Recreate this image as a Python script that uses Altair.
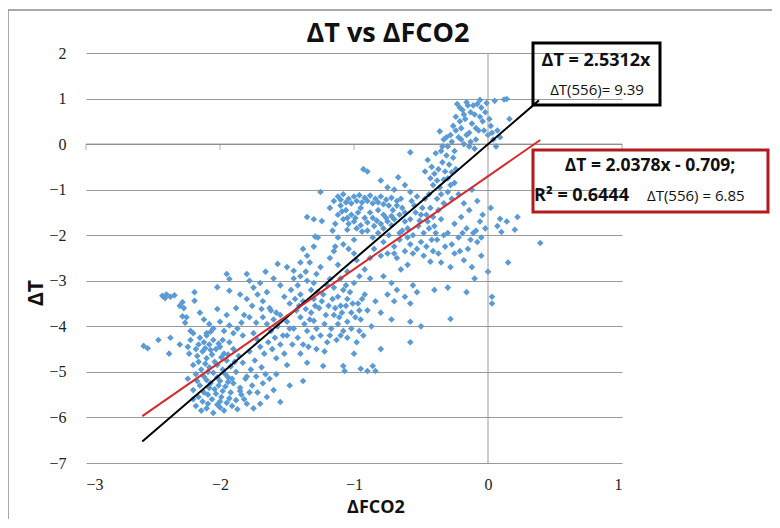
import altair as alt
import pandas as pd

# ---------------- data ----------------
x_ticks = [-3, -2, -1, 0, 1]
y_ticks = [2, 1, 0, -1, -2, -3, -4, -5, -6, -7]

# scatter points (dFCO2, dT), grouped by region of the cloud
pts_far_left = [(-2.57,-4.43),(-2.54,-4.48),(-2.46,-4.30),(-2.37,-4.25),(-2.38,-4.60),(-2.43,-3.33),(-2.40,-3.30),
    (-2.37,-3.35),(-2.34,-3.32),(-2.41,-3.38),(-2.28,-3.47),(-2.27,-3.60),(-2.28,-3.78),(-2.26,-3.92),(-2.25,-3.80),
    (-2.30,-3.55),(-2.22,-4.10),(-2.20,-4.15),(-2.22,-4.30),(-2.24,-4.45),(-2.30,-4.40),(-2.19,-3.25),(-2.19,-3.44)]
pts_low_left = [(-2.15,-4.25),(-2.12,-4.35),(-2.10,-4.20),(-2.08,-4.40),(-2.05,-4.30),(-2.03,-4.50),(-2.13,-4.55),
    (-2.17,-4.65),(-2.10,-4.70),(-2.06,-4.62),(-2.00,-4.45),(-1.97,-4.60),(-1.95,-4.75),(-2.02,-4.85),(-2.08,-4.90),
    (-2.14,-4.95),(-2.18,-5.05),(-2.12,-5.10),(-2.05,-5.02),(-1.98,-4.95),(-1.92,-4.88),(-1.88,-5.00),(-1.94,-5.12),
    (-2.00,-5.20),(-2.07,-5.25),(-2.15,-5.30),(-2.20,-5.40),(-2.12,-5.45),(-2.04,-5.38),(-1.96,-5.32),(-1.90,-5.25),
    (-1.85,-5.35),(-1.92,-5.45),(-1.99,-5.55),(-2.06,-5.60),(-2.13,-5.65),(-2.18,-5.75),(-2.10,-5.80),(-2.02,-5.72),
    (-1.95,-5.68),(-1.88,-5.62),(-1.84,-5.50),(-1.80,-5.70),(-1.87,-5.82),(-1.97,-5.85),(-2.05,-5.90),(-1.83,-4.80),
    (-1.86,-4.65),(-1.90,-4.50),(-1.93,-4.35),(-2.20,-4.85),(-2.24,-5.15),(-2.16,-5.55),(-1.81,-5.15),
    (-2.16,-4.40),(-2.11,-4.48),(-2.07,-4.52),(-2.01,-4.38),(-1.99,-4.68),(-2.04,-4.78),(-2.11,-4.82),(-2.16,-4.78),
    (-2.09,-5.00),(-2.02,-5.12),(-1.96,-5.05),(-1.91,-5.15),(-2.10,-5.18),(-2.17,-5.20),(-2.08,-5.35),(-2.01,-5.30),
    (-1.94,-5.22),(-1.98,-5.42),(-2.09,-5.50),(-2.03,-5.48),(-1.93,-5.58),(-2.00,-5.65),(-2.09,-5.70),(-1.91,-5.75),
    (-1.85,-5.42),(-1.82,-5.60),(-2.14,-5.85),(-2.00,-5.78),(-1.89,-4.78),(-1.94,-4.62),(-1.98,-4.30),(-2.07,-4.12),
    (-2.18,-4.50),(-2.23,-4.60),(-2.20,-5.60),(-1.78,-5.45),(-1.77,-4.95),(-1.73,-5.10),(-1.69,-4.90),(-1.66,-5.05)]
pts_left_mid = [(-2.15,-3.70),(-2.12,-3.85),(-2.08,-3.95),(-2.05,-4.05),(-2.00,-3.90),(-1.97,-4.10),(-1.93,-3.98),
    (-1.90,-4.15),(-1.87,-4.05),(-1.84,-3.92),(-1.95,-3.75),(-2.02,-3.62),(-1.88,-3.60),(-1.82,-3.75),(-2.10,-4.15),
    (-2.02,-3.14),(-1.93,-3.22),(-1.95,-2.85),(-1.93,-2.96),(-1.80,-2.85),(-1.78,-3.00),(-1.75,-3.15),(-1.72,-3.30),
    (-1.70,-3.05),(-1.68,-3.45),(-1.65,-3.25),(-1.63,-3.60),(-1.80,-3.40),(-1.76,-3.55),(-1.85,-3.30),(-1.57,-2.63),
    (-1.50,-2.70),(-1.45,-2.78),(-1.60,-2.95),(-1.55,-3.10),(-1.52,-3.35),(-1.48,-3.50),(-1.58,-3.70),(-1.66,-2.80)]
pts_center_low = [(-1.68,-3.80),(-1.65,-3.95),(-1.62,-4.10),(-1.60,-3.85),(-1.57,-4.00),(-1.55,-3.75),(-1.53,-4.20),
    (-1.50,-3.90),(-1.48,-4.05),(-1.72,-4.30),(-1.70,-4.45),(-1.67,-4.60),(-1.64,-4.35),(-1.61,-4.50),(-1.58,-4.70),
    (-1.55,-4.40),(-1.52,-4.60),(-1.50,-4.85),(-1.75,-4.15),(-1.78,-4.55),(-1.74,-4.75),(-1.80,-5.10),(-1.76,-5.30),
    (-1.72,-5.45),(-1.68,-5.25),(-1.65,-5.55),(-1.70,-5.70),(-1.63,-5.15),(-1.60,-5.40),(-1.55,-5.66),(-1.38,-5.20),
    (-1.75,-5.80),(-1.58,-5.05),(-1.48,-5.30),(-1.40,-4.60),(-1.35,-4.80),(-1.28,-4.50)]
pts_center = [(-1.45,-2.95),(-1.42,-3.10),(-1.40,-3.30),(-1.38,-3.45),(-1.35,-3.00),(-1.32,-3.20),(-1.30,-3.40),
    (-1.28,-2.85),(-1.43,-3.65),(-1.40,-3.80),(-1.37,-3.95),(-1.35,-4.10),(-1.32,-3.70),(-1.30,-3.88),(-1.28,-4.05),
    (-1.25,-4.20),(-1.22,-3.95),(-1.20,-4.35),(-1.42,-4.25),(-1.38,-4.40),(-1.45,-4.05),(-1.26,-3.60),(-1.23,-3.30),
    (-1.20,-3.10),(-1.25,-2.70),(-1.33,-2.60),(-1.22,-4.55),(-1.18,-2.96),(-1.15,-3.15),(-1.12,-3.35),(-1.10,-3.55),
    (-1.08,-3.20),(-1.05,-3.40),(-1.02,-3.70),(-1.00,-3.05),(-0.97,-3.50),(-0.95,-3.85),(-0.92,-3.30),(-0.90,-3.65),
    (-0.87,-4.00),(-0.84,-3.45),(-1.15,-3.75),(-1.12,-3.95),(-1.08,-4.10),(-1.05,-3.90),(-1.18,-4.20),(-1.13,-4.30),
    (-1.05,-4.25),(-0.98,-4.35),(-0.93,-4.20),(-1.18,-2.50),(-1.12,-2.65),(-1.05,-2.80),(-0.98,-2.55),(-0.92,-2.75),
    (-0.88,-2.95),(-1.15,-2.35),(-1.00,-2.40),(-1.23,-4.87),(-1.08,-4.87),(-0.95,-4.93),(-0.84,-4.98),(-1.07,-4.98),
    (-0.90,-4.98),(-0.80,-4.50),(-0.86,-4.87),(-1.00,-4.60),
    (-1.47,-3.20),(-1.44,-3.40),(-1.41,-3.55),(-1.36,-3.62),(-1.33,-3.85),(-1.29,-3.55),(-1.27,-3.25),(-1.24,-3.45),
    (-1.21,-3.75),(-1.19,-3.55),(-1.16,-3.40),(-1.14,-3.60),(-1.11,-3.80),(-1.09,-3.70),(-1.06,-3.55),(-1.03,-3.25),
    (-1.01,-3.50),(-0.99,-3.80),(-0.96,-3.65),(-0.94,-3.40),(-1.17,-4.05),(-1.10,-4.20),(-1.02,-4.05),(-0.96,-4.10),
    (-1.31,-4.25),(-1.34,-4.45),(-1.46,-4.40),(-1.50,-4.20),(-1.59,-4.25),(-1.62,-3.65),(-1.69,-3.62),(-1.73,-3.92),
    (-1.78,-3.80),(-1.83,-4.20),(-1.30,-3.05),(-1.36,-2.80),(-1.40,-2.90),(-1.10,-2.95),(-1.06,-3.10),(-0.96,-2.90)]
pts_upper_mid = [(-1.35,-1.60),(-1.30,-1.65),(-1.24,-1.69),(-1.29,-2.03),(-1.27,-2.05),(-1.16,-1.90),(-1.12,-2.05),
    (-1.08,-2.20),(-1.04,-2.30),(-1.00,-2.10),(-1.14,-2.25),(-1.38,-2.30),(-1.35,-2.45),(-1.30,-2.25),(-1.40,-2.60),
    (-1.12,-1.15),(-1.08,-1.10),(-1.04,-1.20),(-1.00,-1.15),(-0.96,-1.12),(-0.92,-1.18),(-0.88,-1.13),(-0.84,-1.20),
    (-0.80,-1.15),(-0.76,-1.22),(-0.72,-1.18),(-0.68,-1.25),(-0.65,-1.20),(-1.10,-1.35),(-1.06,-1.45),(-1.12,-1.55),
    (-1.08,-1.65),(-1.04,-1.75),(-1.00,-1.70),(-0.95,-1.78),(-0.90,-1.72),(-0.85,-1.80),(-0.80,-1.75),(-0.75,-1.70),
    (-0.70,-1.65),(-0.66,-1.55),(-0.64,-1.40),(-0.68,-1.35),(-0.95,-1.40),(-0.88,-1.50),(-0.82,-1.45),(-0.78,-1.55),
    (-1.02,-1.55),(-0.92,-1.62),(-1.25,-1.05),(-0.93,-0.55),(-0.90,-0.60),(-0.67,-0.73),(-0.80,-0.80),(-0.75,-0.95),
    (-0.70,-1.00),(-0.62,-0.90),(-0.58,-1.05),
    (-1.10,-1.22),(-1.06,-1.28),(-1.02,-1.30),(-0.98,-1.25),(-0.94,-1.28),(-0.90,-1.25),(-0.86,-1.30),(-0.82,-1.28),
    (-0.78,-1.32),(-0.74,-1.35),(-0.71,-1.45),(-0.72,-1.58),(-0.76,-1.62),(-1.09,-1.48),(-1.05,-1.62),(-0.99,-1.62),
    (-0.97,-1.50),(-0.86,-1.62),(-0.83,-1.68),(-0.98,-1.85),(-1.05,-1.88),(-0.94,-1.92),(-0.78,-1.85),(-0.72,-1.78),
    (-1.14,-1.75),(-1.18,-1.40),(-1.15,-1.25),(-0.62,-1.70),(-0.66,-1.95),(-0.70,-2.40)]
pts_right_mid = [(-0.90,-1.90),(-0.86,-2.05),(-0.82,-1.95),(-0.78,-2.15),(-0.74,-2.00),(-0.70,-2.25),(-0.66,-2.10),
    (-0.62,-2.35),(-0.60,-2.05),(-0.85,-2.30),(-0.80,-2.45),(-0.75,-2.40),(-0.68,-2.50),(-0.88,-2.50),(-0.64,-1.90),
    (-0.58,-2.20),(-0.78,-2.90),(-0.72,-3.05),(-0.68,-3.20),(-0.62,-3.35),(-0.58,-3.50),(-0.75,-3.30),(-0.70,-3.45),
    (-0.65,-2.75),(-0.56,-3.10),(-0.53,-3.25),(-0.58,-3.90),(-0.50,-4.00),(-0.58,-4.35),(-0.80,-3.70),(-0.72,-3.85),
    (-0.60,-2.65),(-0.53,-2.30),(-0.48,-2.45),(-0.43,-2.58),(-0.41,-2.35),(-0.38,-2.10),(-0.35,-2.60),(-0.32,-2.25),
    (-0.28,-2.70),(-0.25,-2.40),(-0.22,-2.05),(-0.18,-2.55),(-0.15,-2.30),(-0.12,-2.70),(-0.08,-2.15),(-0.05,-2.45),
    (-0.40,-1.80),(-0.35,-1.65),(-0.30,-1.95),(-0.25,-1.75),(-0.20,-1.60),(-0.16,-1.85),(-0.40,-3.20),(-0.30,-3.15),
    (-0.16,-3.25),(-0.28,-3.84),(0.00,-2.80),(0.03,-3.35),(0.03,-3.50),(-0.10,-2.95)]
pts_band = [(-0.62,-1.50),(-0.58,-1.65),(-0.55,-1.35),(-0.52,-1.80),(-0.50,-1.55),(-0.48,-1.95),(-0.45,-1.70),
    (-0.43,-1.40),(-0.42,-2.10),(-0.56,-2.00),(-0.60,-1.85),(-0.47,-1.20),(-0.44,-1.10),(-0.53,-1.15),
    (-0.45,-0.35),(-0.42,-0.50),(-0.40,-0.65),(-0.38,-0.80),(-0.36,-0.95),(-0.34,-0.40),(-0.32,-0.60),(-0.30,-0.75),
    (-0.28,-0.90),(-0.26,-0.30),(-0.24,-0.55),(-0.39,-0.20),(-0.35,-0.15),(-0.31,-0.25),(-0.58,-0.18),(-0.30,-1.05),
    (-0.27,-1.20),(-0.22,-1.10),(-0.18,-1.30),(-0.14,-1.45),(-0.12,-1.00),(-0.08,-1.25),(-0.04,-1.55),(-0.02,-1.85),
    (-0.06,-1.70),(-0.11,-1.95),
    (-0.57,-1.25),(-0.54,-1.50),(-0.51,-1.68),(-0.49,-1.40),(-0.46,-1.55),(-0.44,-1.85),(-0.41,-1.60),(-0.39,-1.95),
    (-0.37,-1.45),(-0.33,-1.30),(-0.35,-1.10),(-0.38,-1.20),(-0.41,-0.90),(-0.37,-0.55),(-0.33,-0.78),(-0.29,-0.45),
    (-0.27,-0.62),(-0.25,-0.85),(-0.43,-0.75),(-0.47,-0.60),(-0.56,-2.40),(-0.50,-2.15),(-0.46,-2.25),(-0.37,-2.40),
    (-0.33,-2.00),(-0.27,-2.20),(-0.21,-2.35),(-0.19,-1.95),(-0.13,-2.10),(-0.09,-1.90)]
pts_top = [(-0.36,0.28),(-0.33,0.10),(-0.30,-0.05),(-0.28,0.20),(-0.26,0.40),(-0.24,0.60),(-0.22,0.15),(-0.20,0.35),
    (-0.19,0.75),(-0.17,0.55),(-0.15,0.85),(-0.14,0.25),(-0.12,0.45),(-0.10,0.65),(-0.08,0.88),(-0.06,0.97),
    (-0.07,0.30),(-0.04,0.50),(-0.02,0.70),(0.00,0.20),(0.02,0.40),(0.04,0.10),(0.06,-0.05),(0.09,0.15),(0.05,0.95),
    (0.12,0.98),(0.14,0.99),(0.16,0.55),(-0.18,0.00),(-0.10,-0.10),(-0.25,-0.15),(-0.13,0.05),(-0.16,0.92),
    (-0.21,0.80),(-0.23,0.88),
    (-0.27,0.05),(-0.24,0.30),(-0.21,0.50),(-0.18,0.65),(-0.16,0.20),(-0.13,0.70),(-0.11,0.85),(-0.09,0.35),
    (-0.06,0.60),(-0.05,0.80),(-0.03,0.30),(-0.01,0.90),(0.01,0.55),(0.03,0.25),(-0.20,0.10),(-0.14,-0.05),
    (-0.31,0.15),(-0.34,-0.05),(0.07,0.30),(-0.09,0.10)]
pts_right = [(0.09,-1.64),(0.14,-1.70),(0.10,-1.93),(0.20,-1.88),(0.22,-1.60),(0.07,-1.80),(0.39,-2.17),
    (0.15,-2.60),(-0.05,-2.05),(0.02,-1.40)]

# trend lines (end points)
fit0_x = [-2.58, 0.38]
fit0_y = [-6.53, 0.96]          # dT = 2.5312x
fit1_x = [-2.58, 0.39]
fit1_y = [-5.97, 0.09]          # dT = 2.0378x - 0.709

title_text = "ΔT vs ΔFCO2"
x_title = "ΔFCO2"
y_title = "ΔT"
eq0 = "ΔT = 2.5312x"
eq0_b = "ΔT(556)= 9.39"
eq1 = "ΔT = 2.0378x - 0.709;"
eq1_r2 = "R² = 0.6444"
eq1_b = "ΔT(556) = 6.85"

# ---------------- chart ----------------
all_pts = (pts_far_left + pts_low_left + pts_left_mid + pts_center_low + pts_center +
           pts_upper_mid + pts_right_mid + pts_band + pts_top + pts_right)
df = pd.DataFrame(all_pts, columns=["x", "y"])

GRID = "#9a9a9a"
SANS = "Open Sans"
SERIF = "Liberation Serif"

xs = alt.Scale(domain=[-3, 1], nice=False, zero=False)
ys = alt.Scale(domain=[-7, 2], nice=False, zero=False)
x_axis = alt.Axis(values=x_ticks, title=None, grid=False, domain=False, ticks=False,
                  labelFont=SERIF, labelFontSize=16, labelColor="#222", labelPadding=13, format="d")
y_axis = alt.Axis(values=y_ticks, title=None, grid=True, gridColor=GRID, gridWidth=1,
                  domain=False, ticks=False, labelFont=SERIF, labelFontSize=16,
                  labelColor="#222", labelPadding=20, format="d")


def X(f="x"):
    return alt.X(f + ":Q", scale=xs, axis=x_axis)


def Y(f="y"):
    return alt.Y(f + ":Q", scale=ys, axis=y_axis)


one = pd.DataFrame({"a": [0]})

points = alt.Chart(df).mark_point(shape="diamond", filled=True, size=44, color="#5B9BD5", opacity=1).encode(
    x=X(), y=Y())

vline = alt.Chart(pd.DataFrame({"x": [0], "y": [2], "y2": [-7]})).mark_rule(color=GRID, strokeWidth=1).encode(
    x=X(), y=Y(), y2="y2:Q")

hline = alt.Chart(pd.DataFrame({"x": [-3], "x2": [1], "y": [0]})).mark_rule(color="#8a8a8a", strokeWidth=1).encode(
    x=X(), x2="x2:Q", y=Y())

ticks = alt.Chart(pd.DataFrame({"x": x_ticks, "y": [0] * len(x_ticks)})).mark_tick(
    orient="vertical", size=6, thickness=1, yOffset=3, color="#8a8a8a").encode(x=X(), y=Y())

line0 = alt.Chart(pd.DataFrame({"x": fit0_x, "y": fit0_y})).mark_line(color="#000000", strokeWidth=2).encode(
    x=X(), y=Y())
line1 = alt.Chart(pd.DataFrame({"x": fit1_x, "y": fit1_y})).mark_line(color="#d42a2a", strokeWidth=2).encode(
    x=X(), y=Y())

box0 = alt.Chart(one).mark_rect(fill="transparent", stroke="#000000", strokeWidth=3).encode(
    x=alt.value(447), x2=alt.value(574), y=alt.value(-10), y2=alt.value(52))
box1 = alt.Chart(one).mark_rect(fill="transparent", stroke="#b01c1c", strokeWidth=3).encode(
    x=alt.value(447), x2=alt.value(682), y=alt.value(97), y2=alt.value(159))

frame = alt.Chart(one).mark_rect(fill="transparent", stroke="#8c8c8c", strokeWidth=1.5).encode(
    x=alt.value(-78), x2=alt.value(720), y=alt.value(-43), y2=alt.value(470))


def txt(text, x, y, size, weight="normal", align="center", angle=0, font=SANS):
    kw = dict(align=align, baseline="middle", fontSize=size, fontWeight=weight, font=font, color="#111")
    if angle:
        kw["angle"] = angle
    return alt.Chart(pd.DataFrame({"t": [text]})).mark_text(**kw).encode(
        x=alt.value(x), y=alt.value(y), text="t:N")


texts = [
    txt(title_text, 302, -19, 27, "bold"),
    txt(x_title, 290, 455, 18, "bold"),
    txt(y_title, -49, 240, 21, "bold", angle=270),
    txt(eq0, 510, 8, 18, "bold"),
    txt(eq0_b, 511, 37, 15),
    txt(eq1, 564, 113, 17.5, "bold"),
    txt(eq1_r2, 448, 143, 18, "bold", align="left"),
    txt(eq1_b, 561, 143, 15, align="left"),
]

chart = alt.layer(frame, points, vline, hline, ticks, line0, line1, box0, box1, *texts).properties(
    width=536, height=410,
    padding={"left": 78, "top": 45, "right": 150, "bottom": 56},
    autosize=alt.AutoSizeParams(type="none"),
).configure(background="white").configure_view(stroke=None)

chart.save("out.html", embed_options={"renderer": "svg", "actions": False})
